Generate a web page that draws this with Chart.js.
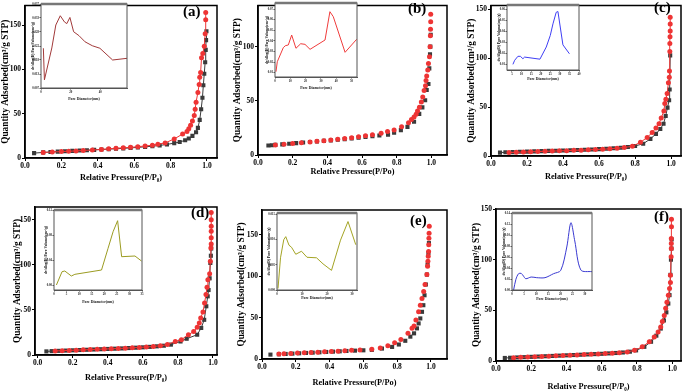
<!DOCTYPE html>
<html>
<head>
<meta charset="utf-8">
<script src="https://cdn.jsdelivr.net/npm/chart.js@4.4.0/dist/chart.umd.min.js"></script>
<style>
html, body { margin: 0; padding: 0; background: #fff; }
#fig { position: relative; width: 685px; height: 391px; overflow: hidden; background: #fff; }
#fig canvas { position: absolute; }
.tag { position: absolute; font: bold 15px 'Liberation Serif', 'Times New Roman', serif; color: #000; line-height: 1; }
</style>
</head>
<body>
<div id="fig"></div>
<script>
// isotherm data (P/P0 vs quantity adsorbed)
const aGrayX = [0.05,0.10,0.14,0.18,0.22,0.26,0.30,0.34,0.38,0.42,0.46,0.50,0.54,0.58,0.62,0.66,0.70,0.74,0.78,0.82,0.85,0.88,0.90,0.92,0.94,0.95,0.96,0.968,0.975,0.98,0.985,0.99,0.993,0.995,0.997];
const aGrayY = [5.5,6.3,6.8,7.2,7.6,8.0,8.4,8.8,9.2,9.6,10.0,10.4,10.9,11.4,12.0,12.6,13.3,14.2,15.3,16.8,18,20,22,25,29,34,43,55,68,82,95,108,122,133,143];
const aRedX = [0.10,0.15,0.20,0.24,0.28,0.32,0.37,0.42,0.46,0.50,0.54,0.58,0.62,0.66,0.70,0.73,0.77,0.82,0.866,0.89,0.90,0.91,0.92,0.93,0.935,0.94,0.95,0.957,0.96,0.965,0.97,0.977,0.985,0.99,0.993,0.993];
const aRedY = [6.2,6.8,7.2,7.6,8.0,8.5,9.0,9.7,10.3,11.0,11.5,12.0,12.8,13.5,14.5,15.5,17.0,21.5,27,30,33,37,41.6,48,55,63,74,83,91,96.5,113,118,126,140,156,164];

const bGrayX = [0.06,0.08,0.10,0.14,0.18,0.22,0.26,0.30,0.34,0.38,0.42,0.46,0.50,0.54,0.58,0.62,0.66,0.70,0.75,0.785,0.824,0.862,0.90,0.93,0.948,0.964,0.973,0.983,0.988,0.992,0.994,0.996];
const bGrayY = [8.8,9.0,9.3,9.8,10.4,11.0,11.5,12.0,12.5,13.0,13.5,14.1,14.7,15.3,16.0,16.7,17.3,18.0,18.8,20.7,23,26,30.7,38,44,50.5,60,65.6,80,93,100,111];
const bRedX = [0.10,0.15,0.20,0.25,0.30,0.34,0.38,0.42,0.46,0.50,0.54,0.58,0.62,0.66,0.71,0.747,0.785,0.828,0.868,0.885,0.90,0.912,0.92,0.931,0.942,0.95,0.958,0.966,0.969,0.973,0.979,0.983,0.989,0.992,0.994,0.995,0.996,0.996];
const bRedY = [9.3,10.0,10.6,11.3,12.0,12.6,13.2,13.8,14.5,15.3,16.0,16.8,17.8,18.8,20.0,21.6,23,26,29.8,32.8,35,37.7,40.7,44,49,53.5,59.6,64,68.7,73,78.4,84.5,90.6,100,110,116,123,130];

const cGrayX = [0.05,0.08,0.12,0.16,0.20,0.24,0.28,0.32,0.36,0.40,0.44,0.48,0.52,0.56,0.60,0.64,0.68,0.72,0.76,0.80,0.845,0.885,0.916,0.94,0.958,0.97,0.98,0.989,0.992,0.995];
const cGrayY = [3.5,3.8,4.0,4.3,4.5,4.7,5.0,5.2,5.4,5.6,5.9,6.1,6.4,6.7,7.0,7.4,7.9,8.5,9.2,10.3,12.5,17.5,22.6,27.6,33,41,49.5,57,68,103];
const cRedX = [0.10,0.14,0.18,0.22,0.26,0.30,0.34,0.38,0.42,0.46,0.50,0.54,0.58,0.62,0.66,0.70,0.74,0.785,0.83,0.867,0.895,0.916,0.933,0.945,0.96,0.965,0.971,0.978,0.985,0.99,0.991,0.993,0.993,0.994,0.995,0.995,0.995];
const cRedY = [3.5,3.8,4.0,4.3,4.5,4.8,5.0,5.3,5.5,5.8,6.0,6.3,6.6,6.9,7.4,8.0,8.7,10,14,19,24,28.6,33,39,46,53.6,58,64,75,80.5,87,107,115,122,128,135,142];

const dGrayX = [0.05,0.08,0.12,0.16,0.20,0.24,0.28,0.32,0.36,0.40,0.44,0.48,0.52,0.56,0.60,0.64,0.68,0.72,0.76,0.815,0.85,0.91,0.933,0.95,0.962,0.97,0.975,0.981,0.985,0.988,0.99];
const dGrayY = [4.0,4.3,4.6,4.9,5.2,5.5,5.8,6.1,6.4,6.7,7.0,7.3,7.7,8.1,8.5,9.0,9.6,10.3,11.5,15,18,22.5,30,39,54,65,72,85,102,110,118];
const dRedX = [0.10,0.14,0.18,0.22,0.26,0.30,0.34,0.38,0.42,0.46,0.50,0.54,0.58,0.62,0.66,0.70,0.74,0.785,0.82,0.86,0.89,0.91,0.922,0.93,0.943,0.952,0.96,0.966,0.971,0.981,0.985,0.988,0.99,0.99,0.99,0.99,0.99,0.99];
const dRedY = [4.5,4.8,5.1,5.4,5.7,6.0,6.3,6.6,6.9,7.2,7.6,8.0,8.4,8.9,9.5,10.2,11.5,15,17,22.5,26,30.7,35.5,41,47.7,57.6,67,75,83.5,90,104,118.6,123,130,137,142.6,150,158];

const eGrayX = [0.05,0.10,0.14,0.18,0.22,0.26,0.30,0.34,0.38,0.42,0.46,0.50,0.55,0.60,0.65,0.71,0.77,0.81,0.848,0.878,0.90,0.917,0.927,0.937,0.947,0.955,0.962,0.97,0.976,0.98,0.985,0.988];
const eGrayY = [5.3,5.7,6.1,6.5,6.9,7.3,7.7,8.1,8.5,8.9,9.3,9.7,10.1,10.5,11,12.6,14.6,17.5,22,27,31,37,43,49,57,65,77,90,102,114,128,140];
const eRedX = [0.10,0.13,0.17,0.21,0.25,0.29,0.33,0.37,0.41,0.45,0.49,0.53,0.58,0.65,0.70,0.745,0.785,0.822,0.864,0.888,0.90,0.911,0.927,0.937,0.947,0.957,0.965,0.976,0.98,0.982,0.984,0.986,0.987,0.988,0.989,0.99];
const eRedY = [6,6.3,6.7,7.1,7.5,7.9,8.3,8.7,9.1,9.5,10,10.5,11,11.8,13.4,16,19.5,23.5,31,37,40,47,57,65,73,81.5,90,102,112,118,124,130,138,146,152,160.5];

const fGrayX = [0.05,0.08,0.12,0.16,0.20,0.24,0.28,0.32,0.36,0.40,0.44,0.48,0.52,0.56,0.60,0.64,0.68,0.72,0.76,0.795,0.842,0.88,0.91,0.935,0.953,0.967,0.978,0.985,0.99,0.993,0.996,0.997];
const fGrayY = [3,3.2,3.5,3.8,4.1,4.4,4.7,5,5.3,5.6,5.9,6.2,6.5,6.8,7.1,7.5,7.9,8.4,9.2,10.5,14,19,25,32,40,48,56.7,65,85,100,111,120];
const fRedX = [0.10,0.14,0.18,0.22,0.26,0.30,0.34,0.38,0.42,0.46,0.50,0.54,0.58,0.62,0.66,0.70,0.745,0.786,0.83,0.87,0.898,0.92,0.935,0.944,0.955,0.963,0.97,0.978,0.985,0.99,0.99,0.994,0.995,0.995,0.995,0.996,0.996];
const fRedY = [3.3,3.6,3.9,4.2,4.5,4.8,5.1,5.4,5.7,6,6.3,6.6,6.9,7.3,7.7,8.2,9,10.5,14,19,23.7,28.7,33.6,39,45,52,58,65,71.5,77.5,84.7,103,111,116,121,132.5,140];

// inset pore size distributions (pore diameter nm vs dv/dlog(D))
const aPoreX = [1.6,2.3,7.3,10,13,15.8,17.4,19.5,22,25.6,29.7,34.6,39.7,48.3,58];
const aPoreY = [0.0217,0.0104,0.0218,0.0300,0.0333,0.0311,0.0305,0.0327,0.0276,0.0262,0.0240,0.0226,0.0217,0.0175,0.0181];
const bPoreX = [0.65,1.5,5.4,6.7,8.7,10.9,13.7,16.8,19.6,22.9,32.7,35.9,38.1,45.8,53.4];
const bPoreY = [0.0109,0.0203,0.0335,0.0354,0.0361,0.0455,0.0330,0.0373,0.0367,0.0320,0.0408,0.0675,0.0628,0.0292,0.0415];
const cPoreX = [5.5,6.4,8.1,9.4,10.7,11.6,19.6,22.9,25,26.4,28.1,29,31.6,35];
const cPoreY = [0.0103,0.0140,0.0176,0.0176,0.0154,0.0169,0.0150,0.026,0.0365,0.047,0.0575,0.0582,0.028,0.0199];
const dPoreX = [0.96,3.2,4.3,6.9,8.3,18.9,21.5,23.5,25.3,26.9,32.2,34.8];
const dPoreY = [0.0,0.0213,0.0224,0.0144,0.0171,0.024,0.0587,0.0853,0.1029,0.0453,0.0464,0.0384];
const ePoreX = [0.4,1.4,2.7,3.5,4.8,5.8,7.5,9.8,12,15.8,18.4,21.8,25.4,28.4,31.5];
const ePoreY = [0.0003,0.0064,0.0100,0.0106,0.0089,0.0085,0.0071,0.0077,0.0065,0.0064,0.0052,0.0039,0.0099,0.0136,0.0090];
const fPoreX = [0.66,1.6,2.7,3.8,4.7,5.7,7.9,10.2,13.6,17.1,20.1,22.6,24.3,25.9,28.4,33];
const fPoreY = [0,0.0193,0.0296,0.0302,0.0255,0.0205,0.0236,0.0224,0.0224,0.0296,0.0356,0.0782,0.1224,0.0891,0.0364,0.0333];

const SERIF = "'Liberation Serif','Times New Roman',serif";
const RED = '#ee3434';
const GRAY = '#3a3a3a';
const fig = document.getElementById('fig');

function addCanvas(left, top, w, h) {
    const c = document.createElement('canvas');
    c.width = w;
    c.height = h;
    c.style.left = left + 'px';
    c.style.top = top + 'px';
    c.style.width = w + 'px';
    c.style.height = h + 'px';
    fig.appendChild(c);
    return c;
}

function pts(xs, ys) {
    return xs.map((x, i) => ({ x: x, y: ys[i] }));
}

function addTag(text, left, top) {
    const d = document.createElement('div');
    d.className = 'tag';
    d.textContent = text;
    d.style.left = left + 'px';
    d.style.top = top + 'px';
    fig.appendChild(d);
}

// box around the plot area
const boxPlugin = {
    id: 'box',
    beforeDatasetsDraw(chart, args, opts) {
        if (!opts.fill) return;
        const a = chart.chartArea, ctx = chart.ctx;
        ctx.save();
        ctx.fillStyle = '#fff';
        ctx.fillRect(a.left, a.top, a.right - a.left, a.bottom - a.top);
        ctx.restore();
    },
    afterDraw(chart, args, opts) {
        const a = chart.chartArea, ctx = chart.ctx;
        ctx.save();
        ctx.strokeStyle = opts.color || '#000';
        ctx.lineWidth = opts.width || 1;
        ctx.strokeRect(a.left, a.top, a.right - a.left, a.bottom - a.top);
        if (opts.topColor) {
            ctx.strokeStyle = opts.topColor;
            ctx.lineWidth = 2.5;
            ctx.beginPath();
            ctx.moveTo(a.left, a.top);
            ctx.lineTo(a.right, a.top);
            ctx.stroke();
        }
        ctx.restore();
    }
};

function mainPanel(p) {
    const [cl, ct, cw, ch] = p.canvas;
    const [L, R, T, B] = p.area;
    const xSize = 8.3, ySize = 9.3;
    const c = addCanvas(cl, ct, cw, ch);
    const tickFont = { family: SERIF, size: 7.5, weight: 'bold' };
    new Chart(c, {
        type: 'scatter',
        data: {
            datasets: [
                {
                    data: pts(p.redX, p.redY),
                    showLine: p.line,
                    borderColor: RED,
                    backgroundColor: RED,
                    borderWidth: 1,
                    pointStyle: 'circle',
                    pointRadius: 2.5,
                    pointBorderWidth: 0
                },
                {
                    data: pts(p.grayX, p.grayY),
                    showLine: p.line,
                    borderColor: GRAY,
                    backgroundColor: GRAY,
                    borderWidth: 1,
                    pointStyle: 'rect',
                    pointRadius: 2.9,
                    pointBorderWidth: 0
                }
            ]
        },
        options: {
            responsive: false,
            animation: false,
            events: [],
            layout: { padding: { top: T - ct, right: cl + cw - R, left: 0, bottom: 0 } },
            plugins: {
                legend: { display: false },
                tooltip: { enabled: false },
                box: { color: '#000', width: 1.5 }
            },
            scales: {
                x: {
                    type: 'linear',
                    min: p.xMin,
                    max: p.xMax,
                    afterFit: (s) => { s.height = ct + ch - B; },
                    ticks: { stepSize: 0.2, includeBounds: false, maxRotation: 0, padding: 1, color: '#000', font: tickFont, callback: (v) => v.toFixed(1) },
                    grid: { drawOnChartArea: false, tickLength: 3, color: '#000' },
                    border: { color: '#000', width: 1.5 },
                    title: { display: true, text: p.xTitle, color: '#000', font: { family: SERIF, size: xSize, weight: 'bold' }, padding: { top: 0, bottom: (ct + ch - p.xTitleY) - xSize * 0.6 } }
                },
                y: {
                    min: 0,
                    max: p.yMax,
                    afterFit: (s) => { s.width = L - cl; },
                    ticks: { stepSize: 50, includeBounds: false, padding: 1, color: '#000', font: tickFont },
                    grid: { drawOnChartArea: false, tickLength: 3, color: '#000' },
                    border: { color: '#000', width: 1.5 },
                    title: { display: true, text: 'Quantity Adsorbed(cm³/g STP)', color: '#000', font: { family: SERIF, size: ySize, weight: 'bold' }, padding: { top: Math.max(0, (p.yTitleX - cl) - ySize * 0.6), bottom: 0 } }
                }
            }
        },
        plugins: [boxPlugin]
    });
}

function insetPanel(p) {
    const [L, R, T, B] = p.area;
    const extL = 12, extB = 15, extT = 3, extR = 3;
    const cl = L - extL, ct = T - extT;
    const cw = R - L + extL + extR, ch = B - T + extT + extB;
    const c = addCanvas(cl, ct, cw, ch);
    const tickFont = { family: SERIF, size: 3, weight: 'bold' };
    new Chart(c, {
        type: 'scatter',
        data: {
            datasets: [{
                data: pts(p.xs, p.ys),
                showLine: true,
                borderColor: p.color,
                borderWidth: 1,
                pointRadius: 0,
                tension: p.tension || 0
            }]
        },
        options: {
            responsive: false,
            animation: false,
            events: [],
            layout: { padding: { top: extT, right: extR, left: 0, bottom: 0 } },
            plugins: {
                legend: { display: false },
                tooltip: { enabled: false },
                box: { color: '#555', width: 1, topColor: '#777', fill: true }
            },
            scales: {
                x: {
                    type: 'linear',
                    min: p.xMin,
                    max: p.xMax,
                    afterFit: (s) => { s.height = extB; },
                    ticks: { stepSize: p.xStep, includeBounds: false, maxRotation: 0, padding: 1, color: '#222', font: tickFont },
                    grid: { drawOnChartArea: false, tickLength: 1.5, color: '#555' },
                    border: { color: '#555', width: 1 },
                    title: { display: true, text: 'Pore Diameter(nm)', color: '#111', font: { family: SERIF, size: 3.8, weight: 'bold' }, padding: { top: 0, bottom: (extB - p.titleDY) - 3.8 * 0.6 } }
                },
                y: {
                    min: p.yMin,
                    max: p.yMax,
                    afterFit: (s) => { s.width = extL; },
                    ticks: { stepSize: p.yStep, includeBounds: false, padding: 0.5, color: '#222', font: tickFont, callback: (v) => v.toFixed(p.dec) },
                    grid: { drawOnChartArea: false, tickLength: 1.5, color: '#555' },
                    border: { color: '#555', width: 1 },
                    title: { display: true, text: 'dv/dlog(D) Pore Volume(cm³/g)', color: '#111', font: { family: SERIF, size: 3.6, weight: 'bold' }, padding: { top: 1.5, bottom: 0 } }
                }
            }
        },
        plugins: [boxPlugin]
    });
}

const xTitleSub = 'Relative Pressure(P/P₀)';
const xTitleO = 'Relative Pressure(P/Po)';

mainPanel({ canvas: [0, 0, 228, 195], area: [25, 217, 3, 158], xMin: 0, xMax: 1.055, yMax: 172, xTitle: xTitleSub, xTitleY: 178, yTitleX: 5, line: true, redX: aRedX, redY: aRedY, grayX: aGrayX, grayY: aGrayY });
mainPanel({ canvas: [228, 0, 228, 195], area: [258, 447, 3, 155], xMin: 0, xMax: 1.09, yMax: 138, xTitle: xTitleO, xTitleY: 172, yTitleX: 238, line: false, redX: bRedX, redY: bRedY, grayX: bGrayX, grayY: bGrayY });
mainPanel({ canvas: [456, 0, 229, 195], area: [491, 684, 3, 156], xMin: 0, xMax: 1.055, yMax: 154, xTitle: xTitleSub, xTitleY: 177, yTitleX: 472, line: true, redX: cRedX, redY: cRedY, grayX: cGrayX, grayY: cGrayY });
mainPanel({ canvas: [0, 195, 228, 196], area: [35, 217, 207, 355], xMin: -0.015, xMax: 1.023, yMax: 164, xTitle: xTitleSub, xTitleY: 378, yTitleX: 18, line: true, redX: dRedX, redY: dRedY, grayX: dGrayX, grayY: dGrayY });
mainPanel({ canvas: [228, 195, 228, 196], area: [262, 447, 210, 359], xMin: 0, xMax: 1.095, yMax: 180, xTitle: xTitleO, xTitleY: 383, yTitleX: 242, line: false, redX: eRedX, redY: eRedY, grayX: eGrayX, grayY: eGrayY });
mainPanel({ canvas: [456, 195, 229, 196], area: [496, 684, 209, 361], xMin: 0, xMax: 1.05, yMax: 150, xTitle: xTitleSub, xTitleY: 387, yTitleX: 477, line: true, redX: fRedX, redY: fRedY, grayX: fGrayX, grayY: fGrayY });

insetPanel({ area: [41, 127, 4, 88], xMin: 0, xMax: 58, xStep: 20, yMin: 0.0075, yMax: 0.0375, yStep: 0.005, dec: 3, titleDY: 11, color: '#a23a3a', xs: aPoreX, ys: aPoreY });
insetPanel({ area: [275, 357, 3, 77], xMin: 0, xMax: 53.6, xStep: 10, yMin: 0.0059, yMax: 0.0757, yStep: 0.01, dec: 2, titleDY: 11, color: '#f03c3c', xs: bPoreX, ys: bPoreY });
insetPanel({ area: [507, 579, 5, 70], xMin: 2.4, xMax: 40, xStep: 5, yMin: 0.0052, yMax: 0.0641, yStep: 0.01, dec: 2, titleDY: 9, color: '#3f3ff5', xs: cPoreX, ys: cPoreY });
insetPanel({ area: [54, 142, 210, 290], xMin: 0, xMax: 35, xStep: 5, yMin: -0.008, yMax: 0.12, yStep: 0.04, dec: 2, titleDY: 12, color: '#9c9c22', xs: dPoreX, ys: dPoreY });
insetPanel({ area: [277, 357, 213, 290], xMin: 0, xMax: 32, xStep: 10, yMin: 0, yMax: 0.0153, yStep: 0.005, dec: 3, titleDY: 8, color: '#a4a424', xs: ePoreX, ys: ePoreY });
insetPanel({ area: [512, 592, 213, 290], xMin: 0, xMax: 33, xStep: 5, yMin: 0, yMax: 0.14, yStep: 0.02, dec: 2, titleDY: 9, color: '#3a3ad2', xs: fPoreX, ys: fPoreY, tension: 0.3 });

addTag('(a)', 183, 4);
addTag('(b)', 408, 1);
addTag('(c)', 654, 0);
addTag('(d)', 191, 205);
addTag('(e)', 410, 213);
addTag('(f)', 654, 209);
</script>
</body>
</html>
